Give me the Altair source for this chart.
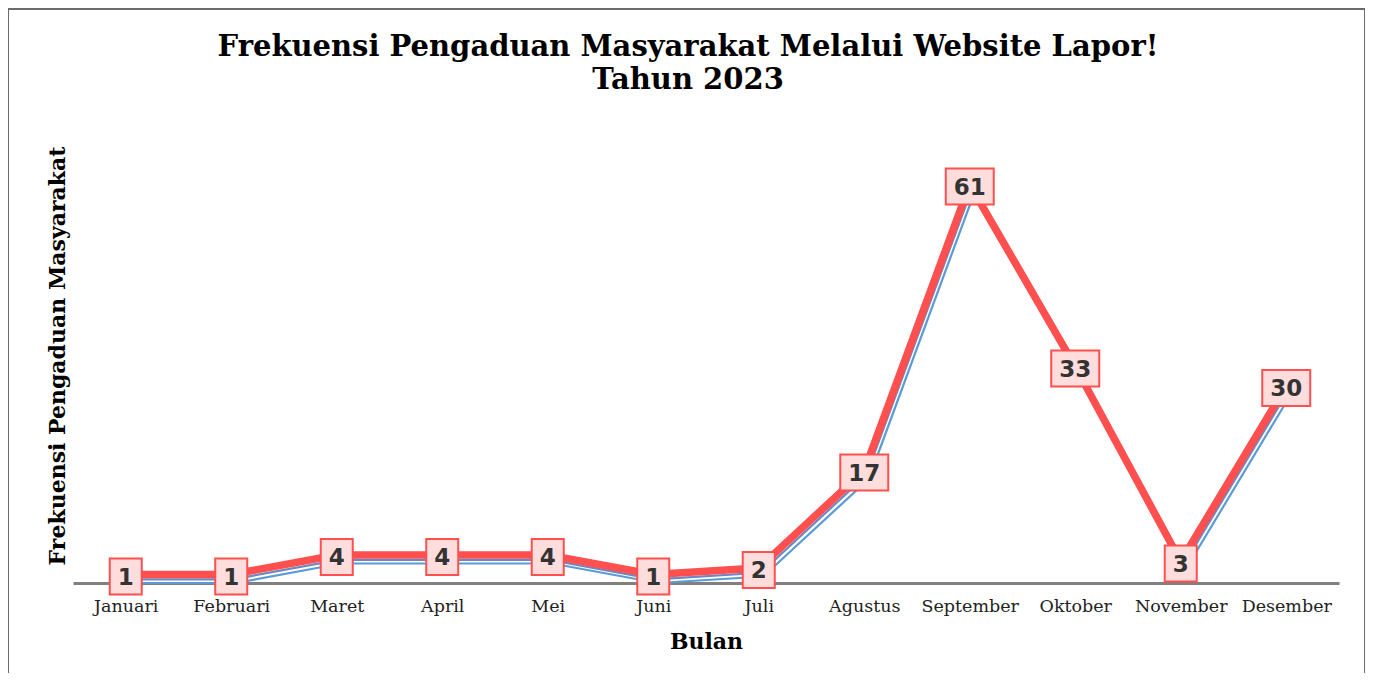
import altair as alt
import pandas as pd

bulan = ["Januari", "Februari", "Maret", "April", "Mei", "Juni", "Juli",
         "Agustus", "September", "Oktober", "November", "Desember"]
nilai = [1, 1, 4, 4, 4, 1, 2, 17, 61, 33, 3, 30]

df = pd.DataFrame({"bulan": bulan, "nilai": nilai})

W, H = 1266, 455
PAD = {"left": 65, "top": 120, "right": 26, "bottom": 90}

x_enc = alt.X("bulan:N", sort=bulan,
              scale=alt.Scale(type="point", padding=0.5),
              axis=alt.Axis(title="Bulan", labelAngle=0, ticks=False, grid=False,
                            domainColor="#808080", domainWidth=3,
                            labelFont="DejaVu Serif", labelFontSize=17.5,
                            labelColor="#222222", labelPadding=14,
                            titleFont="DejaVu Serif", titleFontSize=22,
                            titleFontWeight="bold", titleColor="#000000",
                            titlePadding=17))
y_enc = alt.Y("nilai:Q", scale=alt.Scale(domain=[0, 70], nice=False),
              axis=alt.Axis(title="Frekuensi Pengaduan Masyarakat", labels=False,
                            ticks=False, grid=False, domain=False,
                            titleFont="DejaVu Serif", titleFontSize=22,
                            titleFontWeight="bold", titleColor="#000000",
                            titlePadding=4))

base = alt.Chart(df).encode(x=x_enc, y=y_enc)

line_blue = base.mark_line(color="#5b9bd5", strokeWidth=2.2, xOffset=4.5, yOffset=6.5)
line_mid = base.mark_line(color="#6d87c2", strokeWidth=2.2, xOffset=2, yOffset=2.8)
line_red = base.mark_line(color="#ff4f4f", strokeWidth=7.5, xOffset=0, yOffset=-2,
                          strokeJoin="miter")

boxes = base.transform_calculate(
    bentuk="length(toString(datum.nilai)) > 1 ? 'M-1.333,-1L1.333,-1L1.333,1L-1.333,1Z' : 'M-0.889,-1L0.889,-1L0.889,1L-0.889,1Z'"
).mark_point(filled=True, fill="#ffdddd", stroke="#ff5050", strokeWidth=2,
             opacity=1, size=1296).encode(shape=alt.Shape("bentuk:N", scale=None))

labels = base.mark_text(font="DejaVu Sans", fontWeight="bold", fontSize=23,
                        color="#333333", baseline="middle", align="center",
                        dy=1).encode(text="nilai:Q")

frame = alt.Chart(pd.DataFrame({"a": [0]})).mark_rect(
    fill="transparent", stroke="#6b6b6b", strokeWidth=2
).encode(x=alt.value(-65), x2=alt.value(W + 26), y=alt.value(-119), y2=alt.value(H + 200))

chart = alt.layer(frame, line_blue, line_mid, line_red, boxes, labels).properties(
    width=W, height=H,
    padding=PAD,
    background="white",
    autosize=alt.AutoSizeParams(type="none"),
    title=alt.TitleParams(
        text=["Frekuensi Pengaduan Masyarakat Melalui Website Lapor!", "Tahun 2023"],
        font="DejaVu Serif", fontSize=29, fontWeight="bold", color="#000000",
        anchor="middle", frame="group", offset=-87, lineHeight=33, dx=-18),
).configure_view(stroke="transparent", strokeWidth=0)

chart.save("out.html", embed_options={"renderer": "svg", "actions": False})
